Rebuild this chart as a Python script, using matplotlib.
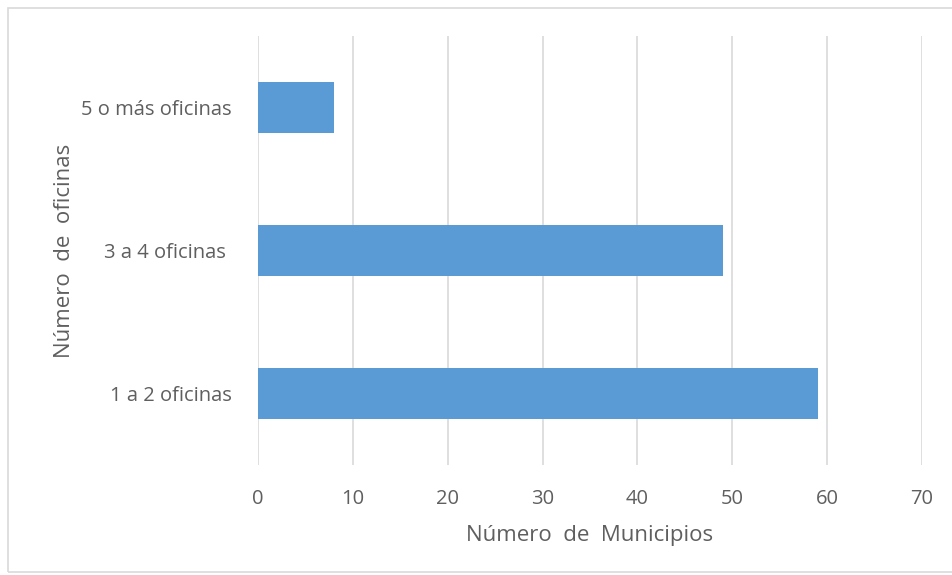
import matplotlib
matplotlib.use("Agg")
import matplotlib.pyplot as plt
from matplotlib.patches import Rectangle

categories = ["1 a 2 oficinas", "3 a 4 oficinas ", "5 o más oficinas"]
values = [59, 49, 8]
xticks = [0, 10, 20, 30, 40, 50, 60, 70]

plt.rcParams['font.family'] = ['Open Sans', 'DejaVu Sans']

W, H = 952, 575
fig = plt.figure(figsize=(W/100, H/100), dpi=100)
fig.patches.append(Rectangle((8/W, 3/H), 1.0, (H-11)/H, transform=fig.transFigure,
                             fill=False, edgecolor='#D9D9D9', linewidth=1.2))

ax = fig.add_axes([258/W, 1-465/H, (922-258)/W, (465-36)/H])
ypos = list(range(len(categories)))
ax.barh(ypos, values, height=0.35, color='#5B9BD5', zorder=3)
ax.set_xlim(0, 70)
ax.set_ylim(-0.5, 2.5)
ax.set_xticks(xticks)
ax.set_xticklabels([str(t) for t in xticks])
ax.set_yticks(ypos)
ax.set_yticklabels(categories)
ax.grid(axis='x', color='#D9D9D9', linewidth=1.2, zorder=0)
ax.grid(axis='y', visible=False)
for s in ax.spines.values():
    s.set_visible(False)
ax.tick_params(axis='both', length=0, colors='#5f5f5f', labelsize=14.5)
ax.tick_params(axis='x', pad=17)
ax.tick_params(axis='y', pad=19)
ax.set_xlabel("Número  de  Municipios", fontsize=16, color='#5f5f5f', labelpad=12)
ax.set_ylabel("Número  de  oficinas", fontsize=16, color='#5f5f5f', labelpad=4.5)

fig.savefig("out.png", dpi=100)
